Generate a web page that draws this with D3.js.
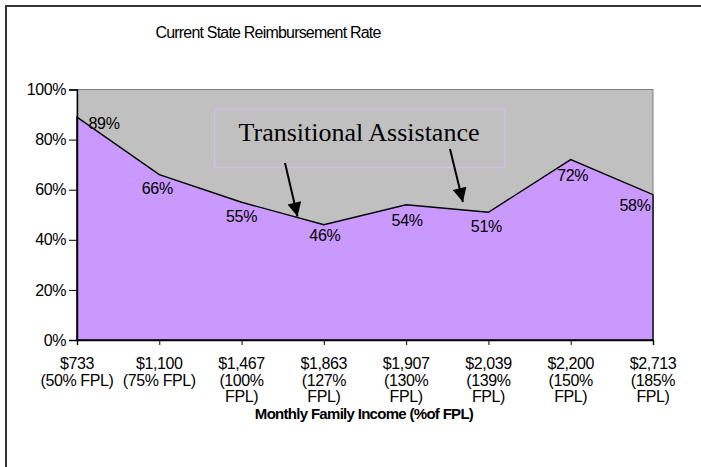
<!DOCTYPE html>
<html>
<head>
<meta charset="utf-8">
<script src="https://cdn.jsdelivr.net/npm/d3@7"></script>
<style>
  html, body { margin: 0; background: #fff; overflow: hidden; }
  svg { display: block; }
  svg text { font-family: "Liberation Sans", Arial, sans-serif; fill: #000; }
</style>
</head>
<body>
<svg id="chart" width="701" height="467"></svg>
<script>
// income levels (x categories), split into lines like the original
var incomes = ['$733', '$1,100', '$1,467', '$1,863', '$1,907', '$2,039', '$2,200', '$2,713']
var fplLines = [
  ['(50% FPL)'], ['(75% FPL)'],
  ['(100%', 'FPL)'], ['(127%', 'FPL)'], ['(130%', 'FPL)'],
  ['(139%', 'FPL)'], ['(150%', 'FPL)'], ['(185%', 'FPL)']
]
// reimbursement rate
var rates = [0.89, 0.66, 0.55, 0.46, 0.54, 0.51, 0.72, 0.58]
var yTicks = [0, 0.2, 0.4, 0.6, 0.8, 1]

var title = 'Current State Reimbursement Rate'
var xTitle = 'Monthly Family Income (%of FPL)'
var note = 'Transitional Assistance'

var gray = '#c0c0c0'
var purple = '#c999fd'

var svg = d3.select('#chart')
var m = {left: 77, right: 48, top: 89.5, bottom: 127}
var W = 701, H = 467

// outer frame: only its left and top edges are inside the picture
svg.append('path')
  .attr('d', 'M6,' + H + 'V6H' + W)
  .attr('fill', 'none').attr('stroke', '#333').attr('stroke-width', 2)

var x = d3.scalePoint().domain(d3.range(rates.length)).range([m.left, W - m.right])
var y = d3.scaleLinear().domain([0, 1]).range([H - m.bottom, m.top])

// plot background
svg.append('rect')
  .attr('x', x(0)).attr('y', y(1))
  .attr('width', x(rates.length - 1) - x(0)).attr('height', y(0) - y(1))
  .attr('fill', gray).attr('stroke', '#808080').attr('stroke-width', 1)

var area = d3.area().x(function(d, i) { return x(i) }).y0(y(0)).y1(function(d) { return y(d) })
svg.append('path')
  .attr('d', area(rates))
  .attr('fill', purple).attr('stroke', '#000').attr('stroke-width', 1.4)

// axes
var yAxis = d3.axisLeft(y).tickValues(yTicks).tickFormat(d3.format('.0%'))
  .tickSizeOuter(0).tickSize(8).tickPadding(3)
var gy = svg.append('g').attr('transform', 'translate(' + m.left + ',0)').call(yAxis)
gy.selectAll('text').style('font-size', '16px').style('letter-spacing', '-0.4px')

var xAxis = d3.axisBottom(x).tickFormat('').tickSizeOuter(0).tickSize(5)
var gx = svg.append('g').attr('transform', 'translate(0,' + y(0) + ')').call(xAxis)
svg.selectAll('.domain').attr('stroke', '#000').attr('stroke-width', 1.4)
svg.selectAll('.tick line').attr('stroke', '#000')

// x labels, multi-line
var xl = svg.append('g').selectAll('text').data(incomes).enter().append('text')
  .attr('x', function(d, i) { return x(i) })
  .attr('y', y(0) + 29)
  .attr('text-anchor', 'middle')
  .style('font-size', '16px').style('letter-spacing', '-0.4px')
xl.append('tspan').attr('x', function(d, i) { return x(i) }).text(function(d) { return d })
xl.each(function(d, i) {
  var t = d3.select(this)
  fplLines[i].forEach(function(s) {
    t.append('tspan').attr('x', x(i)).attr('dy', 16.6).text(s)
  })
})

svg.append('text')
  .attr('x', 364).attr('y', 419).attr('text-anchor', 'middle')
  .style('font-size', '15px').style('font-weight', 'bold').style('letter-spacing', '-0.7px')
  .text(xTitle)

svg.append('text')
  .attr('x', 268).attr('y', 38).attr('text-anchor', 'middle')
  .style('font-size', '16px').style('letter-spacing', '-0.8px')
  .text(title)

// data labels (Excel nudges the end ones inward)
var shift = [[27, 12], [-2, 19], [0, 20], [1, 16], [1, 21], [-2, 20], [2, 21], [-18, 16]]
svg.append('g').selectAll('text').data(rates).enter().append('text')
  .attr('x', function(d, i) { return x(i) + shift[i][0] })
  .attr('y', function(d, i) { return y(d) + shift[i][1] })
  .attr('text-anchor', 'middle')
  .style('font-size', '16px').style('letter-spacing', '-0.3px')
  .text(d3.format('.0%'))

// annotation
svg.append('rect')
  .attr('x', 214.5).attr('y', 109).attr('width', 290.5).attr('height', 58.5)
  .attr('fill', 'none').attr('stroke', '#cfc0e4').attr('stroke-width', 1.5)
svg.append('text')
  .attr('x', 359).attr('y', 141).attr('text-anchor', 'middle')
  .style('font-family', '"Liberation Serif", "Times New Roman", serif')
  .style('font-size', '26px')
  .text(note)

svg.append('defs').append('marker')
  .attr('id', 'head').attr('viewBox', '0 0 10 10')
  .attr('refX', 10).attr('refY', 5)
  .attr('markerWidth', 8).attr('markerHeight', 7)
  .attr('orient', 'auto').attr('markerUnits', 'strokeWidth')
  .append('path').attr('d', 'M0,0 L10,5 L0,10 Z').attr('fill', '#000')

function along(pos, lift) {
  var i = Math.floor(pos), t = pos - i
  var v = rates[i] + (rates[i + 1] - rates[i]) * t
  return [x(i) + (x(i + 1) - x(i)) * t, y(v) - lift]
}
var arrows = [
  {from: [285, 163], to: along(2.68, 1)},
  {from: [450, 149], to: along(4.69, 8)}
]
svg.append('g').selectAll('line').data(arrows).enter().append('line')
  .attr('x1', function(d) { return d.from[0] }).attr('y1', function(d) { return d.from[1] })
  .attr('x2', function(d) { return d.to[0] }).attr('y2', function(d) { return d.to[1] })
  .attr('stroke', '#000').attr('stroke-width', 2)
  .attr('marker-end', 'url(#head)')
</script>
</body>
</html>
